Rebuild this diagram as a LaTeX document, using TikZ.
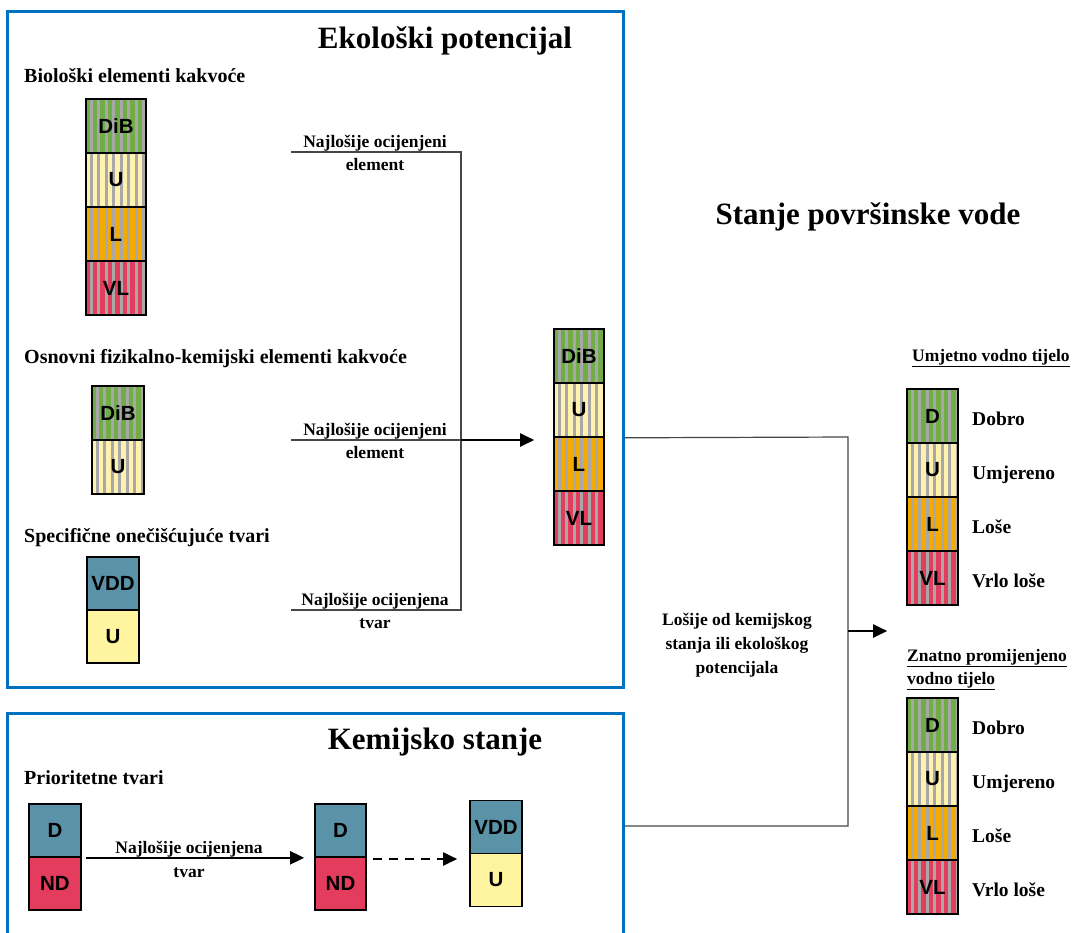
\documentclass[tikz,border=0pt]{standalone}
\usepackage{fontspec}
\setmainfont{Liberation Serif}
\setsansfont{Liberation Sans}
\usetikzlibrary{arrows.meta}
\definecolor{eblue}{RGB}{0,112,192}
\definecolor{cgreen}{RGB}{112,173,71}
\definecolor{cyel}{RGB}{255,242,175}
\definecolor{corange}{RGB}{245,170,0}
\definecolor{cred}{RGB}{228,60,92}
\definecolor{cteal}{RGB}{90,146,168}
\definecolor{csoft}{RGB}{255,245,160}
\definecolor{sgray}{RGB}{168,168,168}
\definecolor{lgray}{RGB}{70,70,70}
\tikzset{
  cell/.style={draw=black, line width=1.6pt, inner sep=0pt,
    font=\fontsize{20.5}{22}\selectfont\sffamily\bfseries},
  striped/.style={cell, path picture={
      \foreach \i in {0,...,11}{
        \fill[sgray] ([xshift=\i*7.5pt+3.6pt]path picture bounding box.south west) rectangle ++(3.3pt,80pt);}}},
  bigcell/.style={minimum width=60pt, minimum height=54pt},
  midcell/.style={minimum width=50pt, minimum height=54pt},
  smallcell/.style={minimum width=52pt, minimum height=53pt},
  rcell/.style={minimum width=51pt, minimum height=54pt},
  frame/.style={draw=eblue, line width=3pt, inner sep=0pt},
  titletext/.style={font=\fontsize{31}{36}\selectfont\bfseries, anchor=base, inner sep=0pt},
  sectext/.style={font=\fontsize{20}{24}\selectfont\bfseries, anchor=base west, inner sep=0pt},
  lab/.style={font=\fontsize{17.5}{24}\selectfont\bfseries, anchor=base, inner sep=0pt},
  legtext/.style={font=\fontsize{19.5}{23}\selectfont\bfseries, anchor=base west, inner sep=0pt},
  headtext/.style={font=\fontsize{17.5}{22}\selectfont\bfseries, anchor=base west, inner sep=0pt},
  conn/.style={draw=lgray, line width=1.2pt},
  arr/.style={draw=black, line width=2pt, -{Triangle[length=14pt,width=13pt]}},
  darr/.style={arr, dash pattern=on 9pt off 7pt},
}
\begin{document}
\begin{tikzpicture}[x=1pt,y=-1pt]
\useasboundingbox (0,0) rectangle (1075,932);
\clip (0,0) rectangle (1075,932);
\fill[white] (0,0) rectangle (1075,932);

% frames
\node[frame, minimum width=616pt, minimum height=676pt] (eco) at (315,349) {};
\node[frame, minimum width=616pt, minimum height=240pt] (chem) at (315,833) {};

% titles
\node[titletext] (t1) at (445,48) {Ekološki potencijal};
\node[titletext] (t2) at (435,749) {Kemijsko stanje};
\node[titletext] (t3) at (868,224) {Stanje površinske vode};

% section headings
\node[sectext] (s1) at (24,82) {Biološki elementi kakvoće};
\node[sectext] (s2) at (24,363) {Osnovni fizikalno-kemijski elementi kakvoće};
\node[sectext] (s3) at (24,542) {Specifične onečišćujuće tvari};
\node[sectext] (s4) at (24,784) {Prioritetne tvari};

% biological stack
\node[striped, bigcell, fill=cgreen] (b1) at (116,126) {DiB};
\node[striped, bigcell, fill=cyel] (b2) at (116,180) {U};
\node[striped, bigcell, fill=corange] (b3) at (116,234) {L};
\node[striped, bigcell, fill=cred] (b4) at (116,288) {VL};

% physico-chemical stack
\node[striped, smallcell, minimum height=54pt, fill=cgreen] (f1) at (118,413) {DiB};
\node[striped, smallcell, minimum height=54pt, fill=cyel] (f2) at (118,467) {U};

% specific pollutants
\node[cell, smallcell, fill=cteal] (o1) at (113,583.5) {VDD};
\node[cell, smallcell, fill=csoft] (o2) at (113,636.5) {U};

% middle stack
\node[striped, midcell, fill=cgreen] (m1) at (579,356) {DiB};
\node[striped, midcell, fill=cyel] (m2) at (579,410) {U};
\node[striped, midcell, fill=corange] (m3) at (579,464) {L};
\node[striped, midcell, fill=cred] (m4) at (579,518) {VL};

% connectors, ecological part
\coordinate (a1) at (291,152);
\coordinate (j1) at (461,152);
\coordinate (a2) at (291,440);
\coordinate (j2) at (461,440);
\coordinate (a3) at (291,610);
\coordinate (j3) at (461,610);
\draw[conn] (a1) -- (j1) -- (j3) -- (a3);
\draw[conn] (a2) -- (j2);
\draw[arr, shorten >=19pt] (j2) -- (j2 -| m3.west);

\node[lab] (l1) at (375,147) {Najlošije ocijenjeni};
\node[lab] (l1b) at (375,170) {element};
\node[lab] (l2) at (375,435) {Najlošije ocijenjeni};
\node[lab] (l2b) at (375,458) {element};
\node[lab] (l3) at (375,605) {Najlošije ocijenjena};
\node[lab] (l3b) at (375,628) {tvar};

% chemical part
\node[cell, smallcell, fill=cteal] (p1) at (55,830.5) {D};
\node[cell, smallcell, fill=cred] (p2) at (55,883.5) {ND};
\node[cell, smallcell, minimum width=51pt, fill=cteal] (q1) at (340.5,830.5) {D};
\node[cell, smallcell, minimum width=51pt, fill=cred] (q2) at (340.5,883.5) {ND};
\node[cell, smallcell, fill=cteal] (v1) at (496,827) {VDD};
\node[cell, smallcell, fill=csoft] (v2) at (496,880) {U};

\draw[arr, shorten <=4pt, shorten >=10pt] (p1.south east) -- (p1.south east -| q1.west);
\node[lab] (l4) at (189,853) {Najlošije ocijenjena};
\node[lab] (l4b) at (189,877) {tvar};
\coordinate (d0) at (373,859);
\draw[darr, shorten >=12pt] (d0) -- (d0 -| v1.west);

% combination
\coordinate (k1) at (848,437);
\coordinate (k2) at (848,826);
\coordinate (ka) at (848,631);
\draw[conn] (eco.east |- m2.south) -- (k1) -- (k2) -- (chem.east |- k2);
\node[lab, anchor=center, align=center] (worse) at (737,645) {Lošije od kemijskog\\stanja ili ekološkog\\potencijala};

% legend 1
\node[headtext] (h1) at (912,361) {\underline{Umjetno vodno tijelo}};
\node[striped, rcell, fill=cgreen] (u1) at (932.5,416) {D};
\node[striped, rcell, fill=cyel] (u2) at (932.5,470) {U};
\node[striped, rcell, fill=corange] (u3) at (932.5,524) {L};
\node[striped, rcell, fill=cred] (u4) at (932.5,578) {VL};
\node[legtext] (d1) at (972,425) {Dobro};
\node[legtext] (d2) at (972,479) {Umjereno};
\node[legtext] (d3) at (972,533) {Loše};
\node[legtext] (d4) at (972,587) {Vrlo loše};

\draw[arr, shorten >=19pt] (ka) -- (ka -| u1.west);

% legend 2
\node[headtext] (h2) at (907,661) {\underline{Znatno promijenjeno}};
\node[headtext] (h2b) at (907,684) {\underline{vodno tijelo}};
\node[striped, rcell, fill=cgreen] (w1) at (932.5,725) {D};
\node[striped, rcell, fill=cyel] (w2) at (932.5,779) {U};
\node[striped, rcell, fill=corange] (w3) at (932.5,833) {L};
\node[striped, rcell, fill=cred] (w4) at (932.5,887) {VL};
\node[legtext] (e1) at (972,734) {Dobro};
\node[legtext] (e2) at (972,788) {Umjereno};
\node[legtext] (e3) at (972,842) {Loše};
\node[legtext] (e4) at (972,896) {Vrlo loše};
\end{tikzpicture}
\end{document}
